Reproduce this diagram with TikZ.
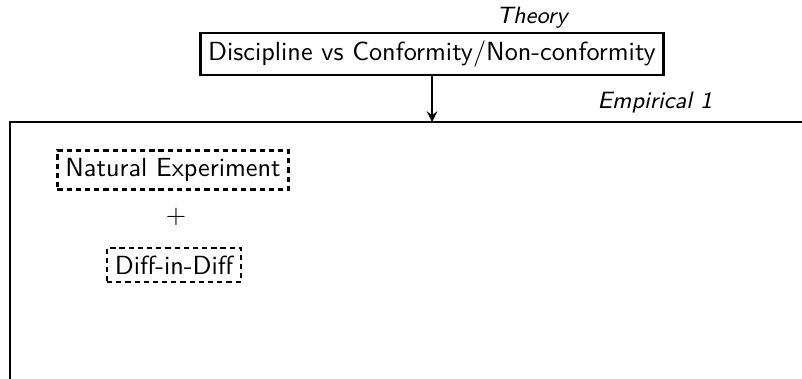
\documentclass[tikz,border=0pt]{standalone}
\usetikzlibrary{arrows, positioning}

\begin{document}
\begin{tikzpicture}[
            > = stealth,
            x = 0.0134cm,
            y = -0.0134cm,
            font = \sffamily,
            semithick
        ]
        \tikzstyle{theorybox}=[
            draw = black,
            line width = 1pt,
            inner sep = 3pt
        ]
        \tikzstyle{methodbox}=[
            draw = black,
            line width = 0.8pt,
            dash pattern = on 2pt off 1.5pt,
            inner sep = 3pt
        ]
        \tikzstyle{tag}=[
            font = \sffamily\itshape\small
        ]
        \clip (0,0) rectangle (802,378);

        \node[theorybox] (disc) at (432,54) {Discipline vs Conformity/Non-conformity};
        \node[tag] (theory) at (532,18) {Theory};

        % empirical block, runs off the page
        \draw[line width = 1.1pt] (10,500) -- (10,122) -- (854,122);
        \coordinate (emp) at (432,122);
        \node[tag] (emp1) at (655,103) {Empirical 1};

        \node[methodbox] (natexp) at (173,170) {Natural Experiment};
        \node (plus) at (176,217) {$+$};
        \node[methodbox] (did) at (174,265) {Diff-in-Diff};

        \draw[->, line width = 0.8pt] (disc) -- (emp);
\end{tikzpicture}
\end{document}
